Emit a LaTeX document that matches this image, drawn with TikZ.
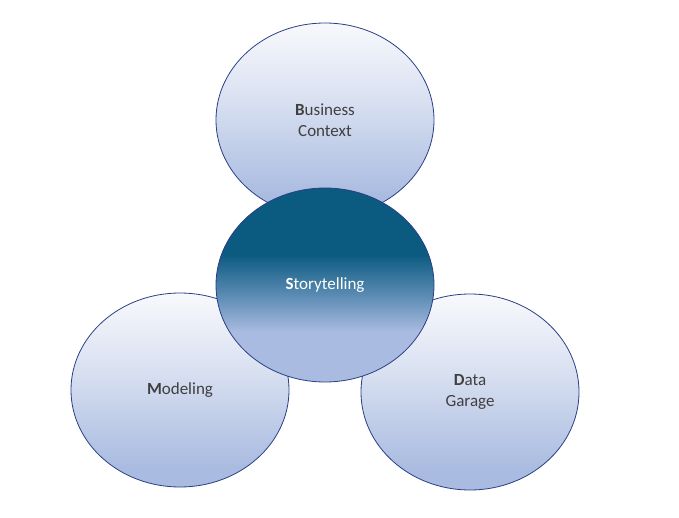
\documentclass[tikz,border=0pt]{standalone}
\usepackage{fontspec}
\setmainfont{Carlito}
\definecolor{edge}{HTML}{2A3F86}
\definecolor{lb}{HTML}{A9BBE0}
\definecolor{tw}{HTML}{F8F9FC}
\definecolor{dk}{HTML}{0B5A80}
\definecolor{md}{HTML}{5E8DB5}
\definecolor{txt}{HTML}{404040}
\pgfdeclareverticalshading{centre}{100bp}{color(0bp)=(lb); color(38bp)=(lb); color(47bp)=(md); color(58bp)=(dk); color(100bp)=(dk)}
\pgfdeclareverticalshading{outer}{100bp}{color(0bp)=(lb); color(30bp)=(lb); color(55bp)=(tw!60!lb); color(75bp)=(tw); color(100bp)=(tw)}
\tikzset{
  circ/.style={ellipse, draw=edge, line width=0.8pt, shading=outer, minimum width=218pt, minimum height=194pt, align=center, text=txt, font=\fontsize{17}{21}\selectfont},
}
\usetikzlibrary{shapes.geometric}
\begin{document}
\begin{tikzpicture}[x=1pt,y=-1pt]
\useasboundingbox (0,0) rectangle (679,518);
\node[circ] (bc) at (325,120) {\textbf{B}usiness\\Context};
\node[circ] (mo) at (180,390) {\textbf{M}odeling};
\node[circ, minimum height=196pt] (dg) at (470,392) {\textbf{D}ata\\Garage};
\node[circ, shading=centre] (st) at (325,285) {\textcolor{white}{\textbf{S}torytelling}};
\end{tikzpicture}
\end{document}
